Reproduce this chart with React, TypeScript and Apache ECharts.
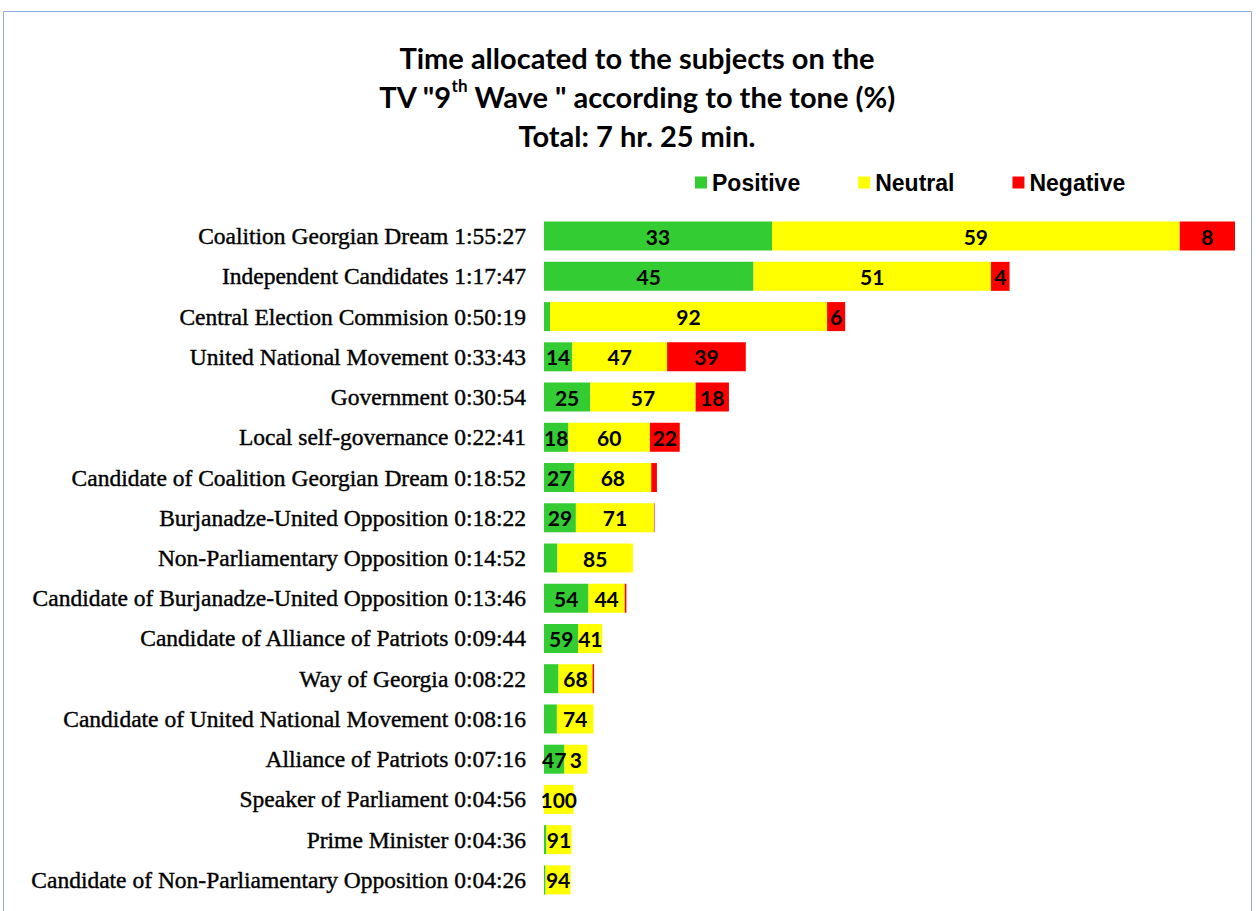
import React, { useEffect, useRef } from "react";
import * as echarts from "echarts";

const categories = [
  "Coalition Georgian Dream",
  "Independent Candidates",
  "Central Election Commision",
  "United National Movement",
  "Government",
  "Local self-governance",
  "Candidate of Coalition Georgian Dream",
  "Burjanadze-United Opposition",
  "Non-Parliamentary Opposition",
  "Candidate of Burjanadze-United Opposition",
  "Candidate of Alliance of Patriots",
  "Way of Georgia",
  "Candidate of United National Movement",
  "Alliance of Patriots",
  "Speaker of Parliament",
  "Prime Minister",
  "Candidate of Non-Parliamentary Opposition",
];
const durations = [
  "1:55:27", "1:17:47", "0:50:19", "0:33:43", "0:30:54", "0:22:41", "0:18:52", "0:18:22",
  "0:14:52", "0:13:46", "0:09:44", "0:08:22", "0:08:16", "0:07:16", "0:04:56", "0:04:36", "0:04:26",
];
const positivePct = [33, 45, 2, 14, 25, 18, 27, 29, 15, 54, 59, 29, 26, 47, 0, 9, 6];
const neutralPct = [59, 51, 92, 47, 57, 60, 68, 71, 85, 44, 41, 68, 74, 53, 100, 91, 94];
const negativePct = [8, 4, 6, 39, 18, 22, 5, 0.5, 0, 2, 0, 3, 0, 0, 0, 0, 0];
const positiveLabels = ["33", "45", "", "14", "25", "18", "27", "29", "", "54", "59", "", "", "47", "", "", ""];
const neutralLabels = ["59", "51", "92", "47", "57", "60", "68", "71", "85", "44", "41", "68", "74", "3", "100", "91", "94"];
const negativeLabels = ["8", "4", "6", "39", "18", "22", "", "", "", "", "", "", "", "", "", "", ""];

const toMinutes = (d: string) => {
  const [h, m, s] = d.split(":").map(Number);
  return h * 60 + m + s / 60;
};

export default function App() {
  const ref = useRef<HTMLDivElement>(null);
  useEffect(() => {
    document.body.style.margin = "0";
    const chart = echarts.init(ref.current!, null, { renderer: "svg" });
    const totals = durations.map(toMinutes);
    const mk = (name: string, pct: number[], labels: string[], color: string) => ({
      name,
      type: "bar",
      stack: "t",
      barWidth: 29,
      itemStyle: { color },
      data: pct.map((p, i) => totals[i] * p / 100),
      label: {
        show: true,
        position: "inside",
        formatter: (p: any) => labels[p.dataIndex],
        color: "#000",
        fontFamily: "Lato",
        fontWeight: "bold",
        fontSize: 21,
      },
    });
    chart.setOption({
      animation: false,
      title: {
        text: "Time allocated to the subjects on the\nTV \"9{sup|th} Wave \" according to the tone (%)\nTotal: 7 hr. 25 min.",
        left: 632,
        textAlign: "center",
        top: 33,
        textStyle: {
          fontFamily: "Lato",
          fontWeight: "bold",
          fontSize: 29,
          lineHeight: 39,
          color: "#000",
          rich: {
            sup: { fontFamily: "Lato", fontWeight: "bold", fontSize: 17, verticalAlign: "top", lineHeight: 39, padding: [0, 0, 10, 0] },
          },
        },
      },
      legend: {
        top: 166,
        left: 690,
        itemWidth: 12,
        itemHeight: 12,
        itemGap: 58,
        icon: "rect",
        textStyle: { fontFamily: "Liberation Sans", fontWeight: "bold", fontSize: 23, color: "#000", padding: [0, 0, 0, 0] },
        data: ["Positive", "Neutral", "Negative"],
      },
      graphic: [
        {
          type: "rect",
          shape: { x: 3.5, y: 11.5, width: 1248, height: 920 },
          style: { fill: "none", stroke: "#8EAADB", lineWidth: 1 },
          silent: true,
        },
      ],
      grid: { left: 544, right: 21, top: 216, bottom: 11, containLabel: false },
      xAxis: {
        type: "value",
        min: 0,
        max: Math.max(...totals),
        show: false,
      },
      yAxis: {
        type: "category",
        inverse: true,
        data: categories.map((c, i) => `${c} ${durations[i]}`),
        axisLine: { show: false },
        axisTick: { show: false },
        axisLabel: {
          margin: 18,
          fontFamily: "Liberation Serif",
          fontSize: 23.5,
          color: "#000",
          textBorderColor: "#000",
          textBorderWidth: 0.4,
        },
      },
      series: [
        mk("Positive", positivePct, positiveLabels, "#33CC33"),
        mk("Neutral", neutralPct, neutralLabels, "#FFFF00"),
        mk("Negative", negativePct, negativeLabels, "#FF0000"),
      ],
    });
    return () => chart.dispose();
  }, []);
  return <div ref={ref} style={{ width: 1256, height: 911 }} />;
}
